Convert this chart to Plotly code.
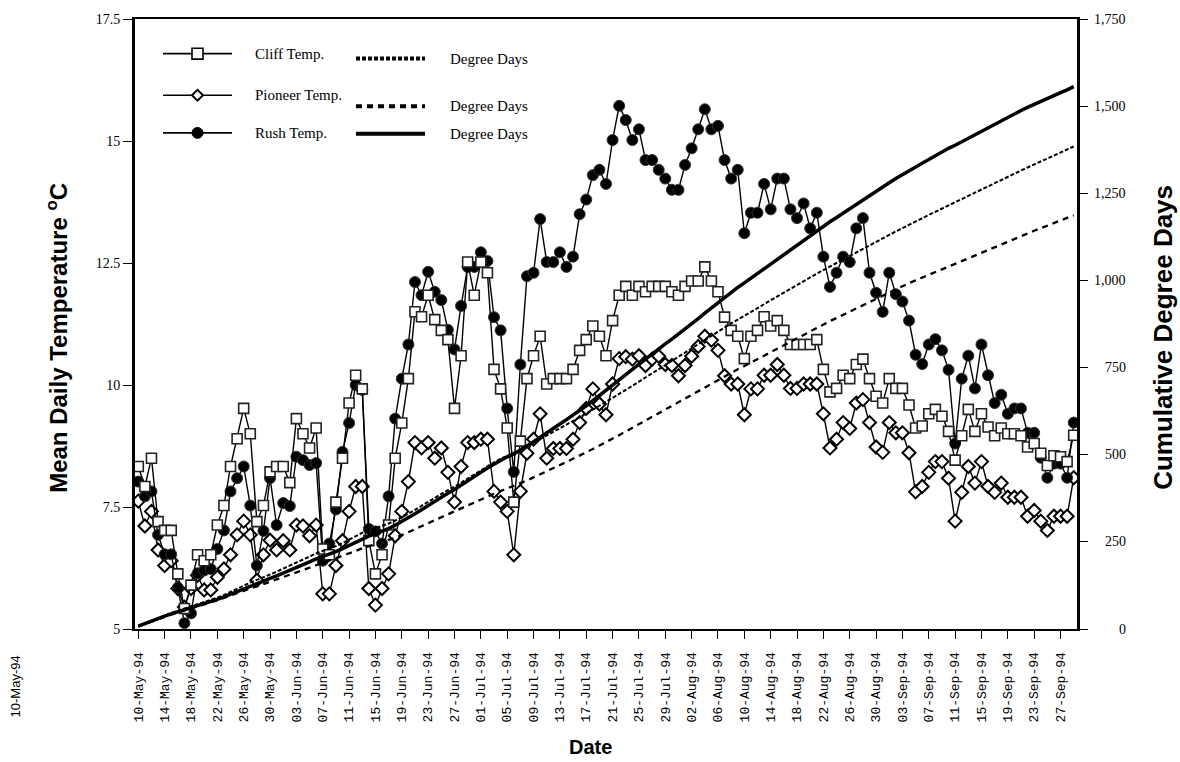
import numpy as np
import pandas as pd
import plotly.graph_objects as go

# ---- data: daily mean stream temperatures (deg C), 10 May - 29 Sep 1994 ----
start_date = "1994-05-10"
n_days = 143

cliff_temp = [
    8.33, 7.92, 8.5, 7.2, 7.02, 7.02, 6.13, 5.42, 5.9, 6.52,
    6.4, 6.52, 7.13, 7.53, 8.33, 8.9, 9.52, 9.0, 7.2, 7.53,
    8.22, 8.33, 8.33, 8.0, 9.31, 9.0, 8.71, 9.12, 6.64, 6.52,
    7.6, 8.5, 9.63, 10.2, 9.92, 6.81, 6.13, 6.52, 7.13, 8.5,
    9.22, 10.13, 11.5, 11.4, 11.84, 11.34, 11.12, 10.93, 9.52, 10.6,
    12.52, 11.84, 12.52, 12.3, 10.32, 9.92, 9.12, 7.6, 8.85, 10.13,
    10.6, 11.0, 10.02, 10.13, 10.13, 10.13, 10.32, 10.71, 10.93, 11.21,
    11.0, 10.6, 11.32, 11.84, 12.02, 11.84, 12.02, 11.91, 12.02, 12.02,
    12.02, 11.91, 11.84, 12.02, 12.13, 12.13, 12.42, 12.13, 11.91, 11.39,
    11.12, 11.0, 10.54, 11.0, 11.12, 11.4, 11.21, 11.32, 11.12, 10.83,
    10.83, 10.83, 10.83, 10.93, 10.32, 9.86, 9.93, 10.2, 10.13, 10.42,
    10.53, 10.13, 9.77, 9.63, 10.13, 9.93, 9.93, 9.59, 9.12, 9.16,
    9.41, 9.5, 9.36, 9.05, 8.46, 8.96, 9.5, 9.05, 9.41, 9.14,
    8.96, 9.12, 9.0, 9.0, 8.96, 8.73, 8.8, 8.6, 8.35, 8.55,
    8.53, 8.43, 8.97,
]

pioneer_temp = [
    7.62, 7.11, 7.41, 6.62, 6.3, 6.4, 5.83, 5.45, 5.83, 6.1,
    5.8, 5.8, 6.06, 6.23, 6.52, 6.93, 7.21, 6.93, 6.0, 6.52,
    6.82, 6.62, 6.81, 6.62, 7.13, 7.11, 6.91, 7.13, 5.72, 5.72,
    6.3, 6.81, 7.41, 7.92, 7.92, 5.83, 5.49, 5.83, 6.13, 6.91,
    7.41, 8.02, 8.82, 8.71, 8.82, 8.5, 8.71, 8.21, 7.6, 8.33,
    8.82, 8.82, 8.89, 8.89, 7.82, 7.6, 7.41, 6.52, 7.82, 8.6,
    8.89, 9.41, 8.5, 8.7, 8.7, 8.7, 8.89, 9.23, 9.52, 9.92,
    9.61, 9.39, 10.02, 10.54, 10.58, 10.53, 10.6, 10.4, 10.53, 10.59,
    10.42, 10.4, 10.19, 10.4, 10.59, 10.79, 11.0, 10.92, 10.71, 10.19,
    10.02, 10.02, 9.39, 9.92, 9.92, 10.2, 10.2, 10.42, 10.2, 9.93,
    9.93, 10.02, 10.02, 10.02, 9.41, 8.71, 8.89, 9.23, 9.11, 9.63,
    9.7, 9.23, 8.73, 8.62, 9.23, 9.02, 9.02, 8.61, 7.81, 7.92,
    8.21, 8.43, 8.43, 8.09, 7.21, 7.8, 8.33, 7.99, 8.43, 7.92,
    7.8, 7.99, 7.7, 7.7, 7.7, 7.31, 7.43, 7.21, 7.02, 7.31,
    7.31, 7.31, 8.1,
]

rush_temp = [
    8.02, 7.72, 7.82, 6.93, 6.53, 6.53, 5.85, 5.12, 5.32, 6.14,
    6.2, 6.23, 6.64, 7.02, 7.82, 8.09, 8.33, 7.53, 6.3, 7.01,
    8.09, 7.13, 7.58, 7.52, 8.53, 8.46, 8.36, 8.4, 6.4, 6.75,
    7.45, 8.63, 9.22, 10.0, 9.9, 7.05, 7.0, 6.75, 7.72, 9.31,
    10.13, 10.83, 12.11, 11.84, 12.32, 11.91, 11.74, 11.13, 10.73, 11.62,
    12.42, 12.42, 12.72, 12.54, 11.39, 11.12, 9.52, 8.22, 10.42, 12.23,
    12.3, 13.4, 12.52, 12.52, 12.72, 12.42, 12.63, 13.5, 13.8, 14.3,
    14.41, 14.12, 15.02, 15.72, 15.43, 15.02, 15.24, 14.61, 14.61, 14.41,
    14.23, 14.0, 14.0, 14.51, 14.85, 15.24, 15.65, 15.24, 15.31, 14.61,
    14.23, 14.41, 13.11, 13.53, 13.53, 14.12, 13.6, 14.23, 14.23, 13.6,
    13.42, 13.72, 13.21, 13.53, 12.63, 12.01, 12.3, 12.63, 12.52, 13.21,
    13.42, 12.3, 11.89, 11.5, 12.3, 11.86, 11.71, 11.32, 10.62, 10.43,
    10.83, 10.94, 10.71, 10.31, 8.8, 10.13, 10.6, 9.93, 10.83, 10.2,
    9.63, 9.8, 9.41, 9.52, 9.52, 9.02, 9.02, 8.51, 8.1, 8.39,
    8.39, 8.1, 9.23,
]

temp_ticks = [5, 7.5, 10, 12.5, 15, 17.5]
dd_ticks = [0, 250, 500, 750, 1000, 1250, 1500, 1750]

dates = pd.date_range(start_date, periods=n_days, freq="D")
tick_dates = pd.date_range("1994-05-10", "1994-09-27", freq="4D")
tick_text = [d.strftime("%d-%b-%y") for d in tick_dates]

# cumulative degree days (base 0 deg C) for each site
cliff_dd = np.cumsum(cliff_temp)
pioneer_dd = np.cumsum(pioneer_temp)
rush_dd = np.cumsum(rush_temp)

W, H = 1180, 762
L, R, T, B = 135, 103, 13, 133
PW, PH = W - L - R, H - T - B

SERIF = "Liberation Serif, Times New Roman, serif"
SANS = "Liberation Sans, Arial, sans-serif"
MONO = "Liberation Mono, Courier New, monospace"


def px(x):
    return (x - L) / PW


def py(y):
    return (H - B - y) / PH


fig = go.Figure()

# degree-day curves on the right axis
fig.add_trace(go.Scatter(x=dates, y=cliff_dd, yaxis="y2", mode="lines",
                         line=dict(color="black", width=2, dash="4px,2px")))
fig.add_trace(go.Scatter(x=dates, y=pioneer_dd, yaxis="y2", mode="lines",
                         line=dict(color="black", width=2.3, dash="6px,5px")))
fig.add_trace(go.Scatter(x=dates, y=rush_dd, yaxis="y2", mode="lines",
                         line=dict(color="black", width=3.5)))

# daily temperatures on the left axis
fig.add_trace(go.Scatter(x=dates, y=pioneer_temp, mode="lines+markers",
                         line=dict(color="black", width=1.4),
                         marker=dict(symbol="diamond", size=10, color="white",
                                     line=dict(color="black", width=2))))
fig.add_trace(go.Scatter(x=dates, y=rush_temp, mode="lines+markers",
                         line=dict(color="black", width=1.4),
                         marker=dict(symbol="circle", size=11, color="black",
                                     line=dict(color="#333", width=1))))
fig.add_trace(go.Scatter(x=dates, y=cliff_temp, mode="lines+markers",
                         line=dict(color="black", width=1.4),
                         marker=dict(symbol="square", size=10, color="white",
                                     line=dict(color="#222", width=1.6))))

# ---- hand-built legend (two columns) ----
shapes = []
annotations = []

rows = [
    ("Cliff Temp.", 48, "square", 53, "4px,2px"),
    ("Pioneer Temp.", 90, "diamond", 101, "6px,5px"),
    ("Rush Temp.", 128, "circle", 129, "solid"),
]
for label, ly, sym, dy, dash in rows:
    shapes.append(dict(type="line", xref="paper", yref="paper",
                       x0=px(163), x1=px(232), y0=py(ly), y1=py(ly),
                       line=dict(color="black", width=1.6)))
    cx = 197.5
    if sym == "square":
        shapes.append(dict(type="rect", xref="paper", yref="paper",
                           x0=px(cx - 5.5), x1=px(cx + 5.5),
                           y0=py(ly + 5.5), y1=py(ly - 5.5),
                           fillcolor="white", line=dict(color="black", width=1.6)))
    elif sym == "diamond":
        d = 5.5
        path = "M {} {} L {} {} L {} {} L {} {} Z".format(
            px(cx - d), py(ly), px(cx), py(ly - d), px(cx + d), py(ly), px(cx), py(ly + d))
        shapes.append(dict(type="path", xref="paper", yref="paper", path=path,
                           fillcolor="white", line=dict(color="black", width=2)))
    else:
        shapes.append(dict(type="circle", xref="paper", yref="paper",
                           x0=px(cx - 5.5), x1=px(cx + 5.5),
                           y0=py(ly + 5.5), y1=py(ly - 5.5),
                           fillcolor="black", line=dict(color="black", width=1)))
    annotations.append(dict(x=px(253), y=py(ly), xref="paper", yref="paper",
                            text=label, showarrow=False, xanchor="left",
                            yanchor="middle",
                            font=dict(family=SERIF, size=15, color="black")))
    shapes.append(dict(type="line", xref="paper", yref="paper",
                       x0=px(356), x1=px(425), y0=py(dy), y1=py(dy),
                       line=dict(color="black", width=4, dash=dash)))
    annotations.append(dict(x=px(448), y=py(dy), xref="paper", yref="paper",
                            text="Degree Days", showarrow=False, xanchor="left",
                            yanchor="middle",
                            font=dict(family=SERIF, size=15, color="black")))

# right-axis tick labels, right aligned
for v in dd_ticks:
    annotations.append(dict(x=px(1128), y=v, xref="paper", yref="y2",
                            text=f"{v:,}", showarrow=False, xanchor="right",
                            yanchor="middle",
                            font=dict(family=SERIF, size=14, color="black")))

# axis titles
annotations.append(dict(x=px(57), y=py(335), xref="paper", yref="paper",
                        text="<b>Mean Daily Temperature <sup>o</sup>C</b>",
                        textangle=-90, showarrow=False,
                        xanchor="center", yanchor="middle",
                        font=dict(family=SANS, size=24, color="black")))
annotations.append(dict(x=px(1163), y=py(335), xref="paper", yref="paper",
                        text="<b>Cumulative Degree Days</b>",
                        textangle=-90, showarrow=False,
                        xanchor="center", yanchor="middle",
                        font=dict(family=SANS, size=26, color="black")))
annotations.append(dict(x=px(590), y=py(748), xref="paper", yref="paper",
                        text="<b>Date</b>", showarrow=False,
                        xanchor="center", yanchor="middle",
                        font=dict(family=SANS, size=20, color="black")))
annotations.append(dict(x=px(15), y=py(687), xref="paper", yref="paper",
                        text="10-May-94", textangle=-90, showarrow=False,
                        xanchor="center", yanchor="middle",
                        font=dict(family=SANS, size=13, color="black")))

x_lo = dates[0] - pd.Timedelta(hours=12)
x_hi = dates[-1] + pd.Timedelta(hours=12)

fig.update_layout(
    width=W, height=H,
    margin=dict(l=L, r=R, t=T, b=B, pad=0),
    paper_bgcolor="white", plot_bgcolor="white",
    showlegend=False,
    shapes=shapes,
    annotations=annotations,
    xaxis=dict(
        type="date", range=[x_lo, x_hi],
        tickvals=list(tick_dates), ticktext=tick_text, tickangle=-90,
        ticks="outside", ticklen=8, tickwidth=1.2, tickcolor="black",
        ticklabelstandoff=8,
        tickfont=dict(family=MONO, size=13, color="black"),
        showline=True, linewidth=2, linecolor="black", mirror=True,
        showgrid=False, zeroline=False,
    ),
    yaxis=dict(
        range=[5, 17.5], tickvals=temp_ticks,
        ticktext=[f"{v:g}" for v in temp_ticks],
        ticks="outside", ticklen=9, tickwidth=1.2, tickcolor="black",
        tickfont=dict(family=SERIF, size=14, color="black"),
        showline=True, linewidth=3, linecolor="black",
        showgrid=False, zeroline=False,
    ),
    yaxis2=dict(
        range=[0, 1750], overlaying="y", side="right", tickvals=dd_ticks,
        showticklabels=False,
        ticks="outside", ticklen=8, tickwidth=1.2, tickcolor="black",
        showline=True, linewidth=3, linecolor="black",
        showgrid=False, zeroline=False,
    ),
)

fig.write_html("out.html")
